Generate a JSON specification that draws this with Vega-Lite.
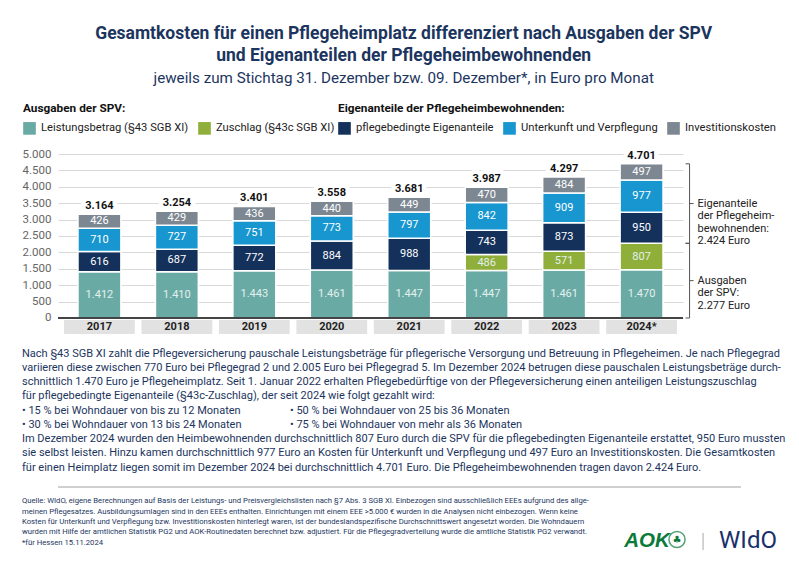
{
  "$schema": "https://vega.github.io/schema/vega-lite/v6.json",
  "background": "white",
  "padding": {"left": 22, "top": 25, "right": 22, "bottom": 0},
  "title": {
    "text": ["Gesamtkosten für einen Pflegeheimplatz differenziert nach Ausgaben der SPV", "und Eigenanteilen der Pflegeheimbewohnenden"],
    "subtitle": "jeweils zum Stichtag 31. Dezember bzw. 09. Dezember*, in Euro pro Monat",
    "anchor": "middle",
    "font": "Roboto",
    "fontSize": 17.5,
    "fontWeight": "bold",
    "color": "#1c355e",
    "lineHeight": 22,
    "subtitleFont": "Roboto",
    "subtitleFontSize": 15.2,
    "subtitleColor": "#1c355e",
    "subtitlePadding": 6,
    "offset": 17
  },
  "config": {
    "view": {"stroke": null},
    "locale": {"number": {"decimal": ",", "thousands": ".", "grouping": [3], "currency": ["", " €"]}},
    "legend": {"labelFont": "Roboto", "titleFont": "Roboto"},
    "axisY": {"tickCount": 11, "labelOverlap": false, "domain": false, "ticks": false, "labelPadding": 7, "labelColor": "#666666", "labelFontSize": 11.5, "labelFont": "Roboto", "gridColor": "#d9d9d9", "gridWidth": 1.2, "title": null}
  },
  "datasets": {
    "seg": [
      {"jahr": "2017", "kategorie": "Leistungsbetrag (§43 SGB XI)", "gruppe": "SPV", "nr": 1, "wert": 1412},
      {"jahr": "2017", "kategorie": "pflegebedingte Eigenanteile", "gruppe": "EA", "nr": 3, "wert": 616},
      {"jahr": "2017", "kategorie": "Unterkunft und Verpflegung", "gruppe": "EA", "nr": 4, "wert": 710},
      {"jahr": "2017", "kategorie": "Investitionskosten", "gruppe": "EA", "nr": 5, "wert": 426},
      {"jahr": "2018", "kategorie": "Leistungsbetrag (§43 SGB XI)", "gruppe": "SPV", "nr": 1, "wert": 1410},
      {"jahr": "2018", "kategorie": "pflegebedingte Eigenanteile", "gruppe": "EA", "nr": 3, "wert": 687},
      {"jahr": "2018", "kategorie": "Unterkunft und Verpflegung", "gruppe": "EA", "nr": 4, "wert": 727},
      {"jahr": "2018", "kategorie": "Investitionskosten", "gruppe": "EA", "nr": 5, "wert": 429},
      {"jahr": "2019", "kategorie": "Leistungsbetrag (§43 SGB XI)", "gruppe": "SPV", "nr": 1, "wert": 1443},
      {"jahr": "2019", "kategorie": "pflegebedingte Eigenanteile", "gruppe": "EA", "nr": 3, "wert": 772},
      {"jahr": "2019", "kategorie": "Unterkunft und Verpflegung", "gruppe": "EA", "nr": 4, "wert": 751},
      {"jahr": "2019", "kategorie": "Investitionskosten", "gruppe": "EA", "nr": 5, "wert": 436},
      {"jahr": "2020", "kategorie": "Leistungsbetrag (§43 SGB XI)", "gruppe": "SPV", "nr": 1, "wert": 1461},
      {"jahr": "2020", "kategorie": "pflegebedingte Eigenanteile", "gruppe": "EA", "nr": 3, "wert": 884},
      {"jahr": "2020", "kategorie": "Unterkunft und Verpflegung", "gruppe": "EA", "nr": 4, "wert": 773},
      {"jahr": "2020", "kategorie": "Investitionskosten", "gruppe": "EA", "nr": 5, "wert": 440},
      {"jahr": "2021", "kategorie": "Leistungsbetrag (§43 SGB XI)", "gruppe": "SPV", "nr": 1, "wert": 1447},
      {"jahr": "2021", "kategorie": "pflegebedingte Eigenanteile", "gruppe": "EA", "nr": 3, "wert": 988},
      {"jahr": "2021", "kategorie": "Unterkunft und Verpflegung", "gruppe": "EA", "nr": 4, "wert": 797},
      {"jahr": "2021", "kategorie": "Investitionskosten", "gruppe": "EA", "nr": 5, "wert": 449},
      {"jahr": "2022", "kategorie": "Leistungsbetrag (§43 SGB XI)", "gruppe": "SPV", "nr": 1, "wert": 1447},
      {"jahr": "2022", "kategorie": "Zuschlag (§43c SGB XI)", "gruppe": "SPV", "nr": 2, "wert": 486},
      {"jahr": "2022", "kategorie": "pflegebedingte Eigenanteile", "gruppe": "EA", "nr": 3, "wert": 743},
      {"jahr": "2022", "kategorie": "Unterkunft und Verpflegung", "gruppe": "EA", "nr": 4, "wert": 842},
      {"jahr": "2022", "kategorie": "Investitionskosten", "gruppe": "EA", "nr": 5, "wert": 470},
      {"jahr": "2023", "kategorie": "Leistungsbetrag (§43 SGB XI)", "gruppe": "SPV", "nr": 1, "wert": 1461},
      {"jahr": "2023", "kategorie": "Zuschlag (§43c SGB XI)", "gruppe": "SPV", "nr": 2, "wert": 571},
      {"jahr": "2023", "kategorie": "pflegebedingte Eigenanteile", "gruppe": "EA", "nr": 3, "wert": 873},
      {"jahr": "2023", "kategorie": "Unterkunft und Verpflegung", "gruppe": "EA", "nr": 4, "wert": 909},
      {"jahr": "2023", "kategorie": "Investitionskosten", "gruppe": "EA", "nr": 5, "wert": 484},
      {"jahr": "2024*", "kategorie": "Leistungsbetrag (§43 SGB XI)", "gruppe": "SPV", "nr": 1, "wert": 1470},
      {"jahr": "2024*", "kategorie": "Zuschlag (§43c SGB XI)", "gruppe": "SPV", "nr": 2, "wert": 807},
      {"jahr": "2024*", "kategorie": "pflegebedingte Eigenanteile", "gruppe": "EA", "nr": 3, "wert": 950},
      {"jahr": "2024*", "kategorie": "Unterkunft und Verpflegung", "gruppe": "EA", "nr": 4, "wert": 977},
      {"jahr": "2024*", "kategorie": "Investitionskosten", "gruppe": "EA", "nr": 5, "wert": 497}
    ],
    "summe": [
      {"jahr": "2017", "gesamt": 3164},
      {"jahr": "2018", "gesamt": 3254},
      {"jahr": "2019", "gesamt": 3401},
      {"jahr": "2020", "gesamt": 3558},
      {"jahr": "2021", "gesamt": 3681},
      {"jahr": "2022", "gesamt": 3987},
      {"jahr": "2023", "gesamt": 4297},
      {"jahr": "2024*", "gesamt": 4701}
    ],
    "klammer": [
      {"gruppe": "EA", "von": 2277, "bis": 4701, "label": "Eigenanteile\nder Pflegeheim-\nbewohnenden:\n2.424 Euro"},
      {"gruppe": "SPV", "von": 0, "bis": 2277, "label": "Ausgaben\nder SPV:\n2.277 Euro"}
    ],
    "absatz": [
      {"zeile": 1, "spalte": "a", "text": "Nach §43 SGB XI zahlt die Pflegeversicherung pauschale Leistungsbeträge für pflegerische Versorgung und Betreuung in Pflegeheimen. Je nach Pflegegrad"},
      {"zeile": 2, "spalte": "a", "text": "variieren diese zwischen 770 Euro bei Pflegegrad 2 und 2.005 Euro bei Pflegegrad 5. Im Dezember 2024 betrugen diese pauschalen Leistungsbeträge durch-"},
      {"zeile": 3, "spalte": "a", "text": "schnittlich 1.470 Euro je Pflegeheimplatz. Seit 1. Januar 2022 erhalten Pflegebedürftige von der Pflegeversicherung einen anteiligen Leistungszuschlag"},
      {"zeile": 4, "spalte": "a", "text": "für pflegebedingte Eigenanteile (§43c-Zuschlag), der seit 2024 wie folgt gezahlt wird:"},
      {"zeile": 5, "spalte": "a", "text": "• 15 % bei Wohndauer von bis zu 12 Monaten"},
      {"zeile": 5, "spalte": "b", "text": "• 50 % bei Wohndauer von 25 bis 36 Monaten"},
      {"zeile": 6, "spalte": "a", "text": "• 30 % bei Wohndauer von 13 bis 24 Monaten"},
      {"zeile": 6, "spalte": "b", "text": "• 75 % bei Wohndauer von mehr als 36 Monaten"},
      {"zeile": 7, "spalte": "a", "text": "Im Dezember 2024 wurden den Heimbewohnenden durchschnittlich 807 Euro durch die SPV für die pflegebedingten Eigenanteile erstattet, 950 Euro mussten"},
      {"zeile": 8, "spalte": "a", "text": "sie selbst leisten. Hinzu kamen durchschnittlich 977 Euro an Kosten für Unterkunft und Verpflegung und 497 Euro an Investitionskosten. Die Gesamtkosten"},
      {"zeile": 9, "spalte": "a", "text": "für einen Heimplatz liegen somit im Dezember 2024 bei durchschnittlich 4.701 Euro. Die Pflegeheimbewohnenden tragen davon 2.424 Euro."}
    ],
    "fuss": [
      {"zeile": 1, "spalte": "a", "text": "Quelle: WIdO, eigene Berechnungen auf Basis der Leistungs- und Preisvergleichslisten nach §7 Abs. 3 SGB XI. Einbezogen sind ausschließlich EEEs aufgrund des allge-"},
      {"zeile": 2, "spalte": "a", "text": "meinen Pflegesatzes. Ausbildungsumlagen sind in den EEEs enthalten. Einrichtungen mit einem EEE >5.000 € wurden in die Analysen nicht einbezogen. Wenn keine"},
      {"zeile": 3, "spalte": "a", "text": "Kosten für Unterkunft und Verpflegung bzw. Investitionskosten hinterlegt waren, ist der bundeslandspezifische Durchschnittswert angesetzt worden. Die Wohndauern"},
      {"zeile": 4, "spalte": "a", "text": "wurden mit Hilfe der amtlichen Statistik PG2 und AOK-Routinedaten berechnet bzw. adjustiert. Für die Pflegegradverteilung wurde die amtliche Statistik PG2 verwandt."},
      {"zeile": 5, "spalte": "a", "text": "*für Hessen 15.11.2024"}
    ],
    "logos": [
      {"logo": "AOK"},
      {"logo": "WIdO"}
    ]
  },
  "vconcat": [
    {
      "width": 625,
      "height": 180,
      "layer": [
        {
          "data": {"name": "seg"},
          "transform": [
            {"stack": "wert", "groupby": ["jahr"], "sort": [{"field": "nr"}], "as": ["y0", "y1"]},
            {"filter": "datum.gruppe == 'SPV'"}
          ],
          "mark": {"type": "bar", "stroke": "white", "strokeWidth": 1.5},
          "encoding": {
            "x": {"field": "jahr", "type": "nominal",
              "scale": {"domain": ["2017", "2018", "2019", "2020", "2021", "2022", "2023", "2024*"], "paddingInner": 0.446, "paddingOuter": 0.258},
              "axis": null},
            "y": {"field": "y0", "type": "quantitative",
              "scale": {"domain": [-488, 5000], "nice": false, "zero": false},
              "axis": {"title": null, "values": [0, 500, 1000, 1500, 2000, 2500, 3000, 3500, 4000, 4500, 5000], "tickCount": 11, "format": ",d", "labelOverlap": false, "grid": true}},
            "y2": {"field": "y1"},
            "color": {"field": "kategorie", "type": "nominal",
              "scale": {"domain": ["Leistungsbetrag (§43 SGB XI)", "Zuschlag (§43c SGB XI)"], "range": ["#6aaaa4", "#8faf3a"]},
              "legend": {"title": "Ausgaben der SPV:", "orient": "none", "legendX": -35, "legendY": -51, "direction": "horizontal", "symbolType": "square", "symbolSize": 160, "symbolStrokeWidth": 0, "labelFontSize": 11.2, "labelColor": "#222222", "labelLimit": 300, "titleLimit": 400, "titleFontSize": 11.8, "titleFontWeight": "bold", "titleColor": "#111111", "columnPadding": 9, "labelOffset": 5, "titlePadding": 7}}
          }
        },
        {
          "data": {"name": "summe"},
          "mark": {"type": "bar", "color": "#e2e2e2", "width": {"band": 1.65}},
          "encoding": {
            "x": {"field": "jahr", "type": "nominal"},
            "y": {"datum": -61, "type": "quantitative"},
            "y2": {"datum": -488}
          }
        },
        {
          "data": {"name": "summe"},
          "mark": {"type": "text", "font": "Roboto", "fontWeight": "bold", "fontSize": 11, "color": "#222222", "baseline": "middle"},
          "encoding": {
            "x": {"field": "jahr", "type": "nominal"},
            "y": {"datum": -275, "type": "quantitative"},
            "text": {"field": "jahr", "type": "nominal"}
          }
        },
        {
          "data": {"name": "seg"},
          "transform": [
            {"stack": "wert", "groupby": ["jahr"], "sort": [{"field": "nr"}], "as": ["y0", "y1"]},
            {"filter": "datum.gruppe == 'EA'"}
          ],
          "mark": {"type": "bar", "stroke": "white", "strokeWidth": 1.5},
          "encoding": {
            "x": {"field": "jahr", "type": "nominal"},
            "y": {"field": "y0", "type": "quantitative"},
            "y2": {"field": "y1"},
            "color": {"field": "kategorie", "type": "nominal",
              "scale": {"domain": ["pflegebedingte Eigenanteile", "Unterkunft und Verpflegung", "Investitionskosten"], "range": ["#14315c", "#1796d0", "#7d8792"]},
              "legend": {"title": "Eigenanteile der Pflegeheimbewohnenden:", "orient": "none", "legendX": 280, "legendY": -51, "direction": "horizontal", "symbolType": "square", "symbolSize": 160, "symbolStrokeWidth": 0, "labelFontSize": 11.2, "labelColor": "#222222", "labelLimit": 300, "titleLimit": 400, "titleFontSize": 11.8, "titleFontWeight": "bold", "titleColor": "#111111", "columnPadding": 9, "labelOffset": 5, "titlePadding": 7}}
          }
        },
        {
          "data": {"name": "seg"},
          "mark": {"type": "rule", "color": "#444444", "strokeWidth": 1.5},
          "encoding": {"y": {"datum": 0, "type": "quantitative"}}
        },
        {
          "data": {"name": "seg"},
          "transform": [
            {"stack": "wert", "groupby": ["jahr"], "sort": [{"field": "nr"}], "as": ["y0", "y1"]},
            {"fold": ["y0", "y1"], "as": ["ende", "pos"]}
          ],
          "mark": {"type": "text", "font": "Roboto", "fontSize": 11, "baseline": "middle"},
          "encoding": {
            "x": {"field": "jahr", "type": "nominal"},
            "y": {"aggregate": "mean", "field": "pos", "type": "quantitative"},
            "detail": [{"field": "kategorie"}, {"field": "gruppe"}],
            "text": {"field": "wert", "type": "quantitative", "format": ",d"},
            "color": {"condition": {"test": "datum.gruppe == 'SPV'", "value": "#e3f0ee"}, "value": "#ffffff"}
          }
        },
        {
          "data": {"name": "summe"},
          "mark": {"type": "text", "font": "Roboto", "fontSize": 11, "fontWeight": "bold", "baseline": "bottom", "dy": -3, "color": "white", "stroke": "white", "strokeWidth": 9, "strokeJoin": "round"},
          "encoding": {
            "x": {"field": "jahr", "type": "nominal"},
            "y": {"field": "gesamt", "type": "quantitative"},
            "text": {"field": "gesamt", "type": "quantitative", "format": ",d"}
          }
        },
        {
          "data": {"name": "summe"},
          "mark": {"type": "text", "font": "Roboto", "fontSize": 11, "fontWeight": "bold", "baseline": "bottom", "dy": -3, "color": "#111111"},
          "encoding": {
            "x": {"field": "jahr", "type": "nominal"},
            "y": {"field": "gesamt", "type": "quantitative"},
            "text": {"field": "gesamt", "type": "quantitative", "format": ",d"}
          }
        },
        {
          "data": {"name": "klammer"},
          "mark": {"type": "rule", "color": "#555555", "strokeWidth": 1, "xOffset": 48},
          "encoding": {
            "x": {"datum": "2024*", "type": "nominal"},
            "y": {"field": "von", "type": "quantitative"},
            "y2": {"field": "bis"}
          }
        },
        {
          "data": {"name": "klammer"},
          "mark": {"type": "rule", "color": "#555555", "strokeWidth": 1, "xOffset": 44, "x2Offset": 48},
          "encoding": {
            "x": {"datum": "2024*", "type": "nominal"},
            "x2": {"datum": "2024*"},
            "y": {"field": "von", "type": "quantitative"}
          }
        },
        {
          "data": {"name": "klammer"},
          "mark": {"type": "rule", "color": "#555555", "strokeWidth": 1, "xOffset": 44, "x2Offset": 48},
          "encoding": {
            "x": {"datum": "2024*", "type": "nominal"},
            "x2": {"datum": "2024*"},
            "y": {"field": "bis", "type": "quantitative"}
          }
        },
        {
          "data": {"name": "klammer"},
          "transform": [{"fold": ["von", "bis"], "as": ["ende", "pos"]}],
          "mark": {"type": "rule", "color": "#555555", "strokeWidth": 1, "xOffset": 48, "x2Offset": 52},
          "encoding": {
            "x": {"datum": "2024*", "type": "nominal"},
            "x2": {"datum": "2024*"},
            "y": {"aggregate": "mean", "field": "pos", "type": "quantitative"},
            "detail": {"field": "gruppe"}
          }
        },
        {
          "data": {"name": "klammer"},
          "transform": [{"fold": ["von", "bis"], "as": ["ende", "pos"]}],
          "mark": {"type": "text", "font": "Roboto", "fontSize": 11, "lineHeight": 12.5, "align": "left", "baseline": "middle", "lineBreak": "\n", "xOffset": 56, "color": "#222222"},
          "encoding": {
            "x": {"datum": "2024*", "type": "nominal"},
            "y": {"aggregate": "mean", "field": "pos", "type": "quantitative"},
            "text": {"field": "label", "type": "nominal"}
          }
        }
      ],
      "resolve": {"scale": {"color": "independent"}}
    },
    {
      "width": 268,
      "height": 114,
      "data": {"name": "absatz"},
      "mark": {"type": "text", "font": "Roboto", "fontSize": 11, "align": "left", "baseline": "middle", "dx": -36, "color": "#1c355e"},
      "encoding": {
        "x": {"field": "spalte", "type": "nominal", "scale": {"type": "point", "domain": ["a", "b"], "padding": 0}, "axis": null},
        "y": {"field": "zeile", "type": "quantitative", "scale": {"domain": [1, 9], "reverse": true, "nice": false, "zero": false}, "axis": null},
        "text": {"field": "text", "type": "nominal"}
      }
    },
    {
      "width": 719,
      "height": 51.5,
      "layer": [
        {
          "data": {"name": "fuss"},
          "mark": {"type": "text", "font": "Roboto", "fontSize": 7.7, "align": "left", "baseline": "middle", "dx": -36, "color": "#1c355e"},
          "encoding": {
            "x": {"field": "spalte", "type": "nominal", "scale": {"type": "point", "domain": ["a", "b"], "padding": 0}, "axis": null},
            "y": {"field": "zeile", "type": "quantitative", "scale": {"domain": [0, 5], "reverse": true, "nice": false, "zero": false}, "axis": null},
            "text": {"field": "text", "type": "nominal"}
          }
        },
        {
          "data": {"name": "logos"},
          "transform": [{"filter": "datum.logo == 'AOK'"}],
          "mark": {"type": "rule", "color": "#a0a0a0", "strokeWidth": 1, "yOffset": -4, "xOffset": -36},
          "encoding": {"y": {"datum": 0, "type": "quantitative"}}
        },
        {
          "data": {"name": "logos"},
          "transform": [{"filter": "datum.logo == 'AOK'"}],
          "mark": {"type": "text", "font": "Liberation Sans, Roboto", "fontSize": 20.5, "fontWeight": "bold", "fontStyle": "italic", "color": "#0b7a3b", "baseline": "alphabetic", "align": "center", "dx": -130, "dy": 4},
          "encoding": {
            "x": {"datum": "b", "type": "nominal"},
            "y": {"datum": 5, "type": "quantitative"},
            "text": {"field": "logo", "type": "nominal"}
          }
        },
        {
          "data": {"name": "logos"},
          "transform": [{"filter": "datum.logo == 'AOK'"}],
          "mark": {"type": "point", "shape": "circle", "filled": false, "color": "#0b7a3b", "strokeWidth": 1.5, "size": 260, "xOffset": -100, "yOffset": -3},
          "encoding": {
            "x": {"datum": "b", "type": "nominal"},
            "y": {"datum": 5, "type": "quantitative"}
          }
        },
        {
          "data": {"name": "logos"},
          "transform": [{"filter": "datum.logo == 'AOK'"}],
          "mark": {"type": "text", "text": "♣", "font": "DejaVu Sans", "fontSize": 10, "color": "#0b7a3b", "baseline": "middle", "align": "center", "dx": -100, "dy": -3},
          "encoding": {
            "x": {"datum": "b", "type": "nominal"},
            "y": {"datum": 5, "type": "quantitative"}
          }
        },
        {
          "data": {"name": "logos"},
          "transform": [{"filter": "datum.logo == 'AOK'"}],
          "mark": {"type": "text", "text": "|", "font": "Roboto", "fontSize": 20, "fontWeight": 300, "color": "#b0b0b0", "baseline": "alphabetic", "dx": -74, "dy": 5},
          "encoding": {
            "x": {"datum": "b", "type": "nominal"},
            "y": {"datum": 5, "type": "quantitative"}
          }
        },
        {
          "data": {"name": "logos"},
          "transform": [{"filter": "datum.logo == 'WIdO'"}],
          "mark": {"type": "text", "font": "Roboto", "fontSize": 24, "fontWeight": 400, "color": "#1b2f6b", "baseline": "alphabetic", "align": "center", "dx": -29, "dy": 5},
          "encoding": {
            "x": {"datum": "b", "type": "nominal"},
            "y": {"datum": 5, "type": "quantitative"},
            "text": {"field": "logo", "type": "nominal"}
          }
        }
      ]
    }
  ],
  "spacing": 13.5
}
